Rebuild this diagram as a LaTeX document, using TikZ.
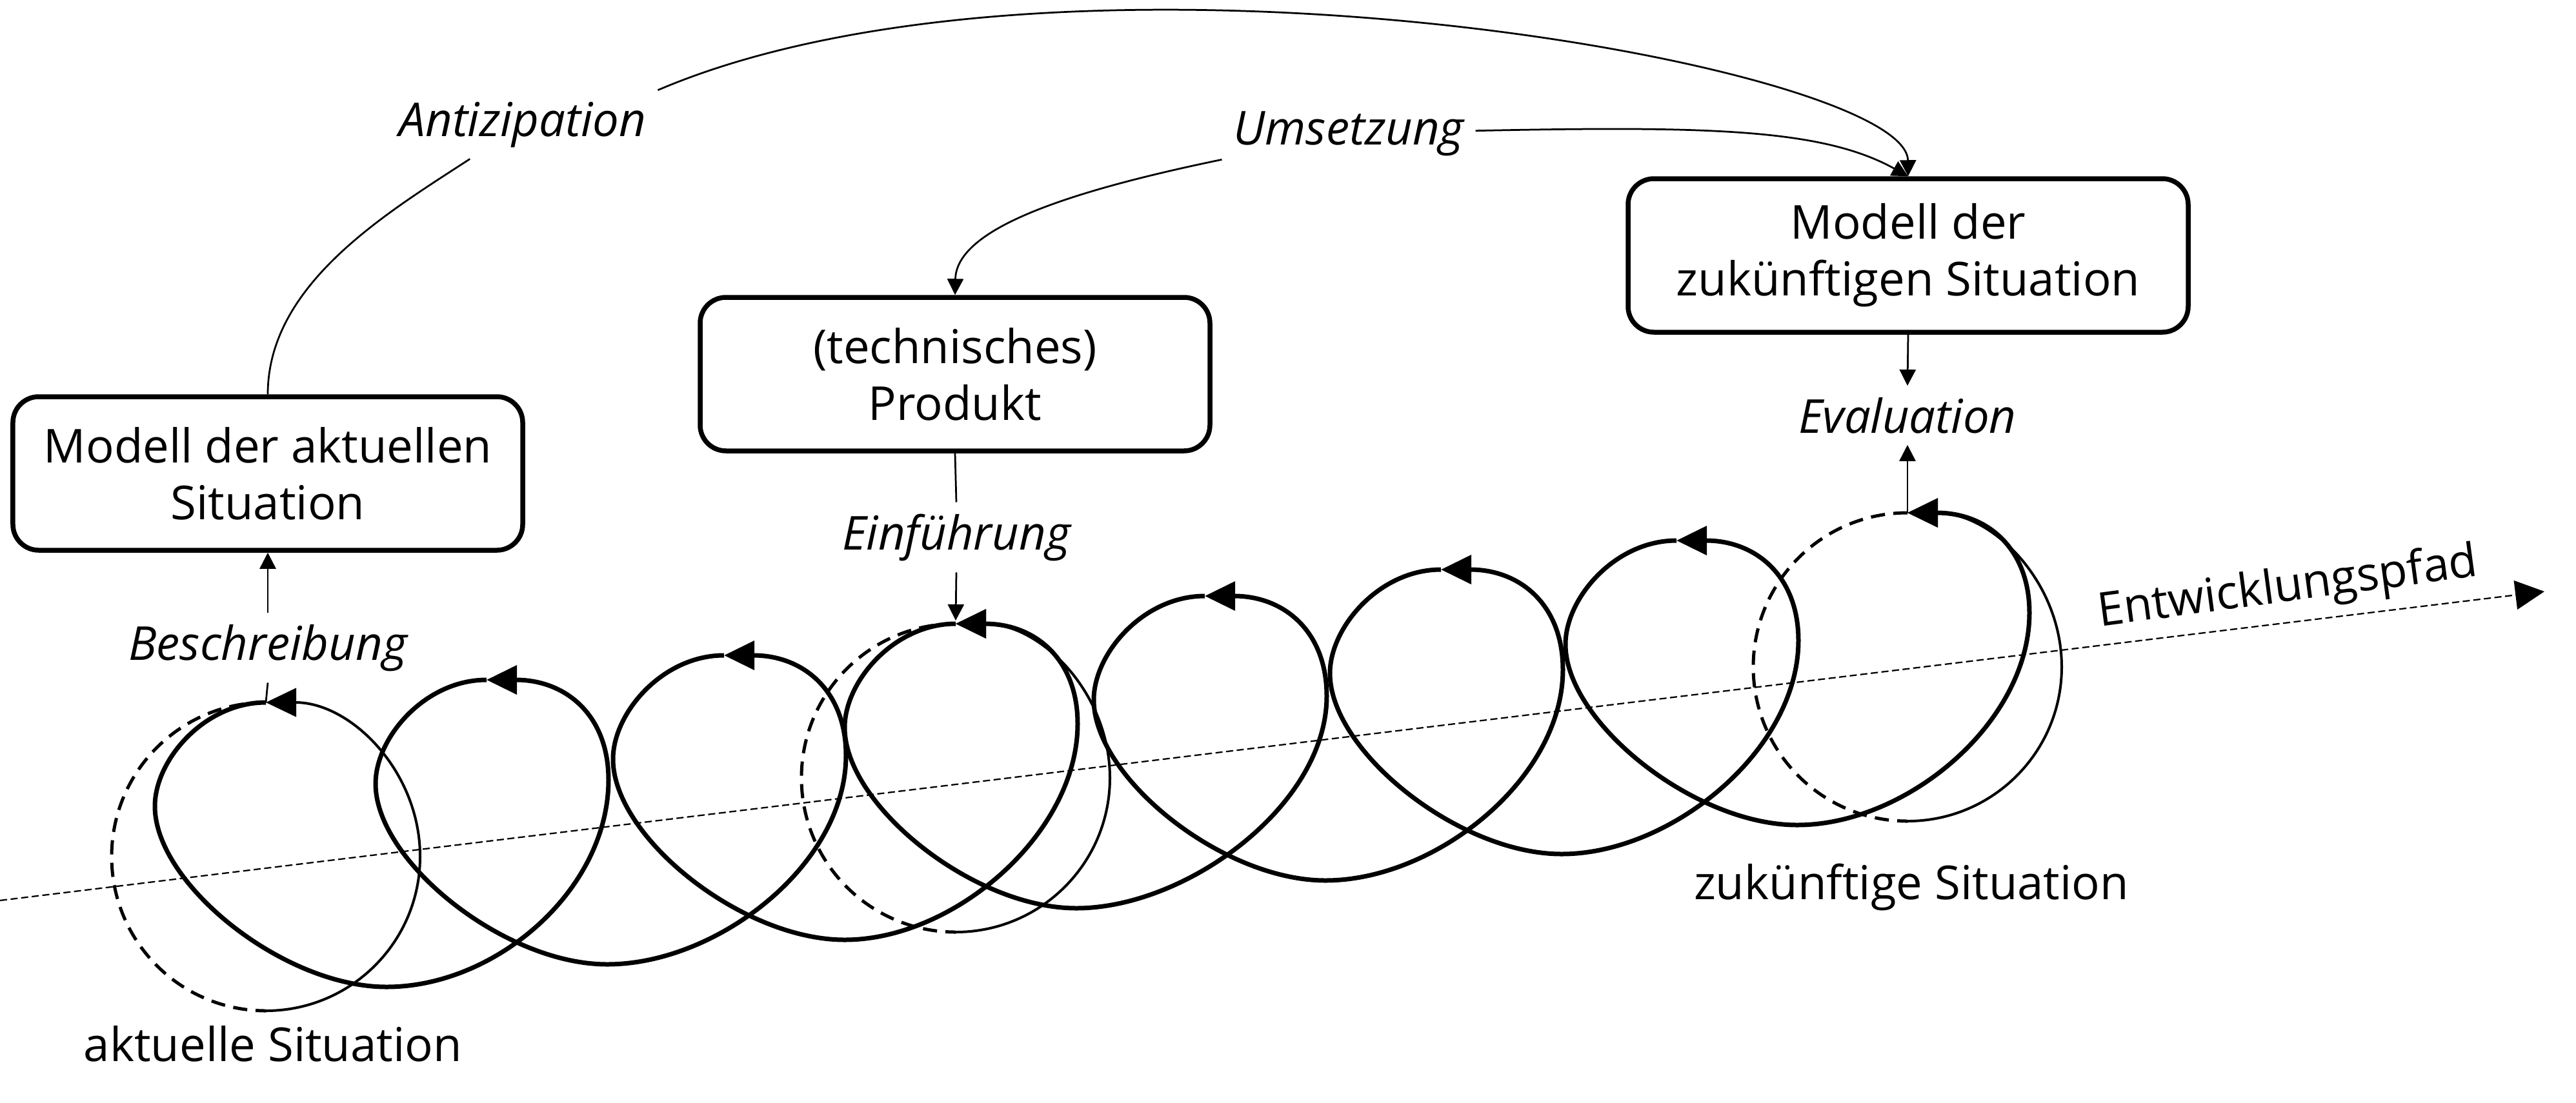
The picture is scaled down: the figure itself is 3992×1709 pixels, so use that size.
\documentclass[tikz,border=0pt]{standalone}
\usepackage{fontspec}
\setmainfont{Open Sans}
\usetikzlibrary{arrows.meta}

\tikzset{every picture/.style={line width=0.55pt}}
\tikzset{
  box/.style={draw, line width=1.5pt, rounded corners=8pt, align=center,
    minimum width=158pt, minimum height=47.6pt},
  act/.style={font=\fontsize{14.5}{17.6}\selectfont\itshape},
  helix/.style={line width=1.4pt, -{Triangle[length=9.4pt,width=8.8pt]}},
  ringback/.style={line width=1pt, dash pattern=on 4.4pt off 2.6pt},
  ringfront/.style={line width=0.8pt, -{Triangle[length=9.4pt,width=8.8pt]}},
  axis/.style={line width=0.45pt, dash pattern=on 2.2pt off 1.1pt,
    -{Triangle[length=9pt,width=9pt]}}
}

\begin{document}
\begin{tikzpicture}[x=0.2pt,y=0.2pt,yscale=-1,font=\fontsize{14.5}{17.6}\selectfont,
  >={Triangle[length=5pt,width=5pt]}]
\useasboundingbox (0,0) rectangle (3992,1709);

% Entwicklungspfad
\coordinate (pfadA) at (0,1396);
\coordinate (pfadB) at (3943,917);
\draw [axis] (pfadA) -- (pfadB);
\node [anchor=base, rotate=7.6] (pfad) at (3548,932) {Entwicklungspfad};

% Situationen (Querschnitte)
\foreach \cx/\cy in {412/1328, 1481/1206, 2956/1034} {
  \draw [ringback] (\cx,\cy) ++(0,-239) arc [start angle=-90, end angle=-270, radius=239];
  \draw [ringfront] (\cx,\cy) ++(0,239) arc [start angle=90, end angle=-90, radius=239];
}

% Spirale
\foreach \xa/\ya/\xb/\yb in {412/1089/754/1054, 754/1054/1122/1016, 1122/1016/1481/967,
    1481/967/1867/924, 1867/924/2233/883, 2233/883/2598/838, 2598/838/2956/795}
  \draw [helix] (\xa,\ya) .. controls +(-95,0) and +(0,-72) .. ({\xa-172},{\ya+161})
    .. controls +(0,120) and +(-160,0) .. ({\xa+187},{\ya+441})
    .. controls +(170,0) and +(0,170) .. ({\xb+189},{\yb+155})
    .. controls +(0,-100) and +(123,0) .. (\xb,\yb);

\coordinate (top0) at (412,1089);
\coordinate (top3) at (1481,962);
\coordinate (top7) at (2956,795);

% Modelle
\node [box] (mAkt) at (415,734) {Modell der aktuellen\\Situation};
\node [box] (mProd) at (1480,580) {(technisches)\\Produkt};
\node [box, minimum width=173.6pt] (mZuk) at (2957,396) {Modell der\\zukünftigen Situation};

% Taetigkeiten
\node [act, anchor=base] (anti) at (810,211) {Antizipation};
\node [act, anchor=base] (ums) at (2090,224) {Umsetzung};
\node [act, anchor=base] (einf) at (1482,852) {Einführung};
\node [act, anchor=base] (eval) at (2956,671) {Evaluation};
\node [act, anchor=base] (besch) at (415,1023) {Beschreibung};
\node [anchor=base] (akt) at (423,1645) {aktuelle Situation};
\node [anchor=base] (zuk) at (2962,1394) {zukünftige Situation};

\draw (mAkt.north) .. controls (415,440) and (600,330) .. (anti);
\draw [->] (anti.north east) .. controls (1650,-130) and (2955,100) .. (mZuk.north);
\draw [->] (ums) .. controls (2651,195) and (2825,200) .. (mZuk.north);
\draw [->] (ums) .. controls (1634,301) and (1482,359) .. (mProd.north);
\draw (mProd.south) -- (einf.north);
\draw [->] (einf.south) -- (top3);
\draw [->] (mZuk.south) -- (eval.north);
\draw [->] (top7) -- (eval.south);
\draw [->] (besch.north) -- (mAkt.south);
\draw (top0) -- (besch.south);

\end{tikzpicture}
\end{document}
